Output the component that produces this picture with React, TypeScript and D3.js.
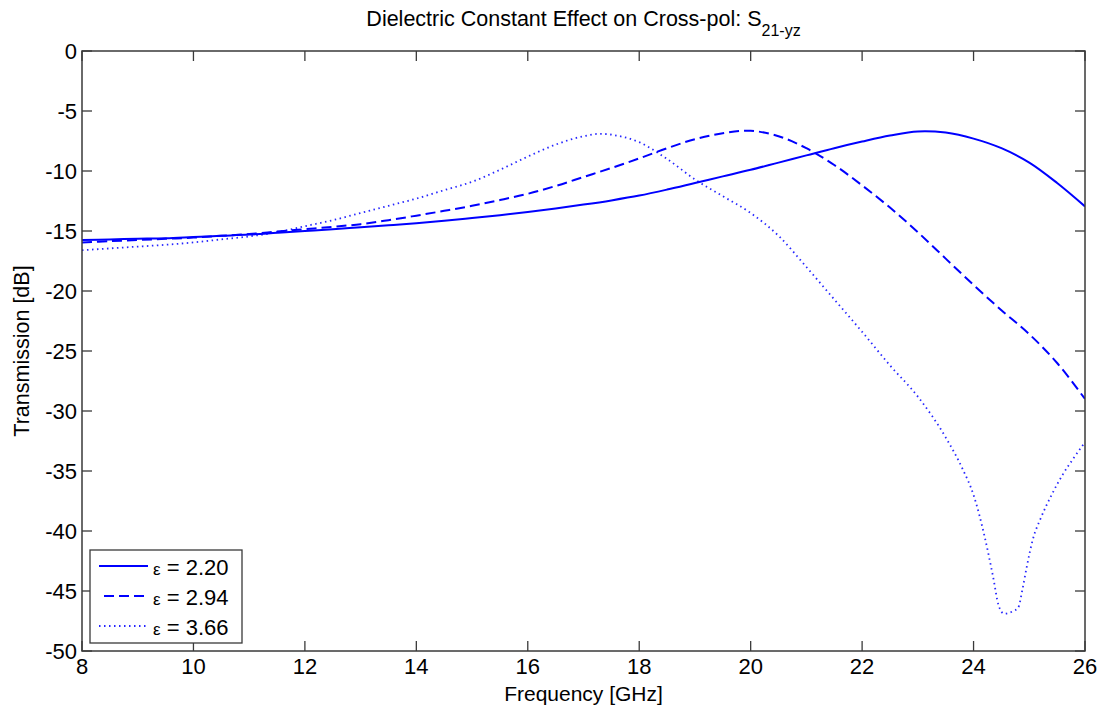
import React from "react";
import * as d3 from "d3";

const freqGrid = [8, 8.5, 9, 9.5, 10, 10.5, 11, 11.5, 12, 12.5, 13, 13.5, 14, 14.5, 15, 15.5, 16, 16.5, 17, 17.5, 18, 18.5, 19, 19.5, 20, 20.5, 21, 21.5, 22, 22.5, 23, 23.5, 24, 24.5, 25, 25.5, 26];

const eps220 = [-15.75, -15.7, -15.65, -15.6, -15.5, -15.4, -15.3, -15.15, -15.0, -14.85, -14.68, -14.52, -14.35, -14.15, -13.92, -13.68, -13.42, -13.12, -12.8, -12.45, -12.05, -11.55, -11.0, -10.45, -9.9, -9.3, -8.7, -8.1, -7.55, -7.05, -6.7, -6.8, -7.3, -8.1, -9.3, -11.0, -12.95];

const eps294 = [-15.95, -15.85, -15.75, -15.65, -15.55, -15.4, -15.25, -15.05, -14.85, -14.65, -14.43, -14.1, -13.72, -13.32, -12.9, -12.42, -11.9, -11.25, -10.5, -9.75, -8.95, -8.1, -7.35, -6.85, -6.65, -7.1, -8.1, -9.5, -11.2, -13.05, -15.1, -17.3, -19.5, -21.6, -23.6, -26.0, -29.0];

const freq366 = [8, 8.5, 9, 9.5, 10, 10.5, 11, 11.5, 12, 12.5, 13, 13.5, 14, 14.5, 15, 15.5, 16, 16.5, 17, 17.3, 17.6, 18, 18.5, 19, 19.5, 20, 20.5, 21, 21.5, 22, 22.5, 23, 23.5, 23.8, 24.0, 24.2, 24.35, 24.45, 24.55, 24.7, 24.8, 24.88, 24.95, 25.07, 25.2, 25.4, 25.6, 25.8, 26];
const eps366 = [-16.6, -16.45, -16.3, -16.15, -15.95, -15.7, -15.45, -15.1, -14.6, -14.1, -13.5, -12.9, -12.3, -11.6, -10.9, -9.9, -8.8, -7.8, -7.1, -6.9, -7.05, -7.6, -9.0, -10.7, -12.1, -13.5, -15.4, -18.0, -20.7, -23.4, -26.2, -28.8, -32.2, -34.8, -37.0, -40.5, -43.8, -46.2, -46.9, -46.7, -46.4, -44.8, -43.1, -40.6, -39.0, -37.0, -35.3, -33.9, -32.6];

const xTicks = [8, 10, 12, 14, 16, 18, 20, 22, 24, 26];
const yTicks = [0, -5, -10, -15, -20, -25, -30, -35, -40, -45, -50];
const legendLabels = ["2.20", "2.94", "3.66"];

const FONT = "'Liberation Sans', Arial, Helvetica, sans-serif";

export default function App() {
  const left = 82, right = 1085, top = 51, bottom = 651;
  const x = d3.scaleLinear().domain([8, 26]).range([left, right]);
  const y = d3.scaleLinear().domain([-50, 0]).range([bottom, top]);
  const smooth = d3
    .line<[number, number]>()
    .x((d) => x(d[0]))
    .y((d) => y(d[1]))
    .curve(d3.curveCatmullRom.alpha(0.5));
  const mono = d3
    .line<[number, number]>()
    .x((d) => x(d[0]))
    .y((d) => y(d[1]))
    .curve(d3.curveMonotoneX);

  const series = [
    { pts: freqGrid.map((f, i) => [f, eps220[i]] as [number, number]), gen: smooth, dash: null, w: 2, op: 1 },
    { pts: freqGrid.map((f, i) => [f, eps294[i]] as [number, number]), gen: smooth, dash: "10,5", w: 2, op: 1 },
    { pts: freq366.map((f, i) => [f, eps366[i]] as [number, number]), gen: mono, dash: "1.5,3.5", w: 1.8, op: 0.85 },
  ];

  const axisColor = "#3a3a3a";
  const tickLen = 10;

  return (
    <svg
      width={1109}
      height={713}
      style={{ position: "absolute", left: 0, top: 0, background: "#fff" }}
      fontFamily={FONT}
    >
      <defs>
        <clipPath id="clip">
          <rect x={left} y={top} width={right - left} height={bottom - top} />
        </clipPath>
      </defs>
      <rect x={0} y={0} width={1109} height={713} fill="#fff" />
      {/* data lines */}
      <g clipPath="url(#clip)">
        {series.map((s, i) => (
          <path
            key={i}
            d={s.gen(s.pts) || ""}
            fill="none"
            stroke="#0000ff"
            strokeOpacity={s.op}
            strokeWidth={s.w}
            strokeDasharray={s.dash || undefined}
          />
        ))}
      </g>

      {/* box */}
      <rect x={left} y={top} width={right - left} height={bottom - top} fill="none" stroke={axisColor} strokeWidth={1.5} />

      {/* x ticks */}
      {xTicks.map((t) => (
        <g key={"x" + t}>
          <line x1={x(t)} x2={x(t)} y1={bottom} y2={bottom - tickLen} stroke={axisColor} strokeWidth={1.3} />
          <line x1={x(t)} x2={x(t)} y1={top} y2={top + tickLen} stroke={axisColor} strokeWidth={1.3} />
          <text x={x(t)} y={674} textAnchor="middle" fontSize={22} fill="#000">
            {t}
          </text>
        </g>
      ))}

      {/* y ticks */}
      {yTicks.map((t) => (
        <g key={"y" + t}>
          <line x1={left} x2={left + tickLen} y1={y(t)} y2={y(t)} stroke={axisColor} strokeWidth={1.3} />
          <line x1={right} x2={right - tickLen} y1={y(t)} y2={y(t)} stroke={axisColor} strokeWidth={1.3} />
          <text x={77} y={y(t) + 8} textAnchor="end" fontSize={22} fill="#000">
            {t}
          </text>
        </g>
      ))}

      {/* title */}
      <text x={(left + right) / 2} y={26} textAnchor="middle" fontSize={21.5} fill="#000">
        Dielectric Constant Effect on Cross-pol: S
        <tspan fontSize={16} dy={10}>21-yz</tspan>
      </text>

      {/* axis labels */}
      <text x={(left + right) / 2} y={701} textAnchor="middle" fontSize={21} fill="#000">
        Frequency [GHz]
      </text>
      <text transform={`translate(29, ${(top + bottom) / 2}) rotate(-90)`} textAnchor="middle" fontSize={21.5} fill="#000">
        Transmission [dB]
      </text>

      {/* legend */}
      <rect x={90} y={550} width={152} height={93} fill="#fff" stroke={axisColor} strokeWidth={1.3} />
      {legendLabels.map((lab, i) => {
        const ly = 566 + i * 30;
        const s = series[i];
        return (
          <g key={lab}>
            <line
              x1={i === 1 ? 104 : 99}
              x2={148}
              y1={ly}
              y2={ly}
              stroke="#0000ff"
              strokeOpacity={s.op}
              strokeWidth={s.w}
              strokeDasharray={s.dash || undefined}
            />
            <text x={153} y={ly + 9} fontSize={22} fill="#000">
              <tspan fontSize={17}>ε</tspan>
              {" = " + lab}
            </text>
          </g>
        );
      })}
    </svg>
  );
}
